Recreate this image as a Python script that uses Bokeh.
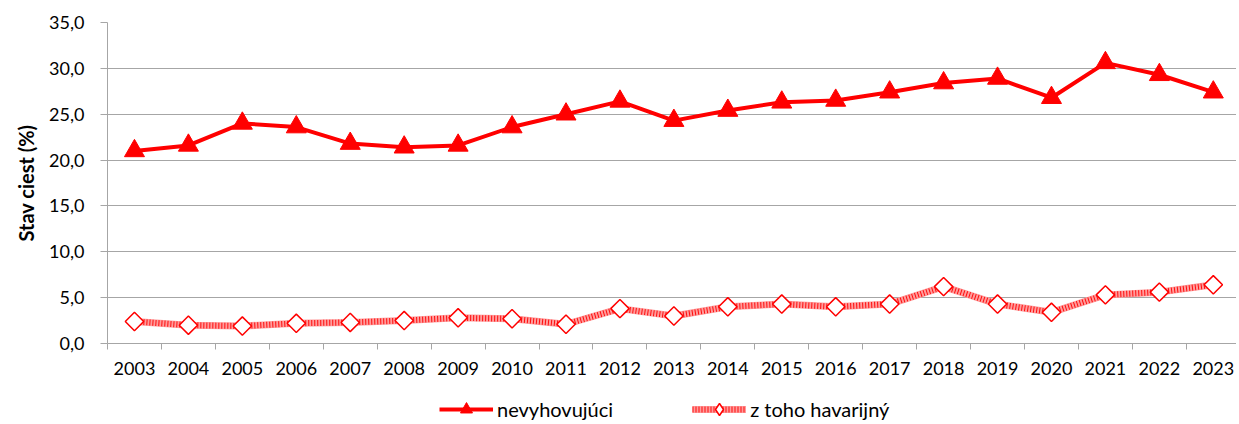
import math
from bokeh.plotting import figure
from bokeh.layouts import column
from bokeh.models import (Range1d, FixedTicker, CustomJSTickFormatter, Legend, LegendItem,
                          ColumnDataSource)
from bokeh.embed import file_html
from bokeh.resources import INLINE

years = [2003, 2004, 2005, 2006, 2007, 2008, 2009, 2010, 2011, 2012, 2013,
         2014, 2015, 2016, 2017, 2018, 2019, 2020, 2021, 2022, 2023]
nevyhovujuci = [21.0, 21.6, 24.0, 23.6, 21.8, 21.4, 21.6, 23.6, 25.0, 26.4, 24.3,
                25.4, 26.3, 26.5, 27.4, 28.4, 28.9, 26.8, 30.6, 29.3, 27.4]
havarijny = [2.4, 2.0, 1.9, 2.2, 2.3, 2.5, 2.8, 2.7, 2.1, 3.8, 3.0,
             4.0, 4.3, 4.0, 4.3, 6.2, 4.3, 3.4, 5.3, 5.6, 6.4]
y_ticks = [0, 5, 10, 15, 20, 25, 30, 35]
series_names = ["nevyhovujúci", "z toho havarijný"]

FONT = "Lato"
GRID = "#a6a6a6"
RED = "#ff0000"
PAT_BASE = "#ff9c9c"
PAT_DOT = "#ff0c0c"
W = 1236

src = ColumnDataSource(dict(x=years, a=nevyhovujuci, b=havarijny))

p = figure(width=W, height=380, output_backend="svg", toolbar_location=None,
           x_range=Range1d(years[0] - 0.5, years[-1] + 0.43), y_range=Range1d(0, 35),
           min_border_left=107, min_border_right=0, min_border_top=22, min_border_bottom=37)
p.outline_line_color = None

# x axis
boundaries = [y - 0.5 for y in years] + [years[-1] + 0.5]
p.xaxis.ticker = FixedTicker(ticks=years, minor_ticks=boundaries)
p.xaxis.formatter = CustomJSTickFormatter(code="return String(tick);")
p.xaxis.major_tick_line_color = None
p.xaxis.minor_tick_line_color = GRID
p.xaxis.minor_tick_out = 6
p.xaxis.minor_tick_in = 0
p.xaxis.axis_line_color = GRID
p.xaxis.major_label_text_font = FONT
p.xaxis.major_label_text_font_size = "18px"
p.xaxis.major_label_text_color = "#000000"
p.xaxis.major_label_standoff = 12
p.xgrid.grid_line_color = None

# y axis
p.yaxis.ticker = FixedTicker(ticks=y_ticks)
p.yaxis.formatter = CustomJSTickFormatter(code="return tick.toFixed(1).replace('.', ',');")
p.yaxis.axis_line_color = GRID
p.yaxis.major_tick_line_color = GRID
p.yaxis.major_tick_out = 7
p.yaxis.major_tick_in = 0
p.yaxis.minor_tick_line_color = None
p.yaxis.major_label_text_font = FONT
p.yaxis.major_label_text_font_size = "18px"
p.yaxis.major_label_text_color = "#000000"
p.yaxis.major_label_standoff = 16
p.yaxis.axis_label = "Stav ciest (%)"
p.yaxis.axis_label_text_font = FONT
p.yaxis.axis_label_text_font_style = "bold"
p.yaxis.axis_label_text_font_size = "20px"
p.yaxis.axis_label_text_color = "#000000"
p.yaxis.axis_label_standoff = 8
p.ygrid.grid_line_color = GRID
p.ygrid.grid_line_width = 1

# z toho havarijny - patterned thick line imitation
p.line("x", "b", source=src, line_color=PAT_BASE, line_width=7)
p.line("x", "b", source=src, line_color=PAT_DOT, line_width=6, line_dash="1 2")
p.scatter("x", "b", source=src, marker="square", angle=math.pi / 4, size=13,
          fill_color="white", line_color=RED, line_width=1.5)

# nevyhovujuci
p.line("x", "a", source=src, line_color=RED, line_width=4)
p.scatter("x", "a", source=src, marker="triangle", size=20,
          fill_color=RED, line_color=RED)

# legend strip below
leg = figure(width=W, height=44, output_backend="svg", toolbar_location=None,
             x_range=Range1d(0, 1), y_range=Range1d(0, 1),
             x_axis_type=None, y_axis_type=None,
             min_border_left=0, min_border_right=0, min_border_top=0, min_border_bottom=0)
leg.outline_line_color = None
leg.xgrid.grid_line_color = None
leg.ygrid.grid_line_color = None
# off-range placeholder point so legend glyphs are drawn
dummy = ColumnDataSource(dict(x=[-5], y=[-5]))
la = leg.line("x", "y", source=dummy, line_color=RED, line_width=4)
sa = leg.scatter("x", "y", source=dummy, marker="triangle", size=16,
                 fill_color=RED, line_color=RED)
lb1 = leg.line("x", "y", source=dummy, line_color=PAT_BASE, line_width=7)
lb2 = leg.line("x", "y", source=dummy, line_color=PAT_DOT, line_width=6, line_dash="1 2")
sb = leg.scatter("x", "y", source=dummy, marker="diamond", size=16,
                 fill_color="white", line_color=RED, line_width=1.5)

legend = Legend(items=[LegendItem(label=series_names[0], renderers=[la, sa]),
                       LegendItem(label=series_names[1], renderers=[lb1, lb2, sb])],
                orientation="horizontal", location=(332, 0),
                label_text_font=FONT, label_text_font_size="20px",
                label_text_color="#000000",
                label_standoff=4, glyph_width=54, glyph_height=30, spacing=79,
                border_line_color=None, background_fill_alpha=0,
                margin=0, padding=0)
leg.add_layout(legend, "center")

layout = column(p, leg, spacing=0)
open("out.html", "w").write(file_html(layout, INLINE))
